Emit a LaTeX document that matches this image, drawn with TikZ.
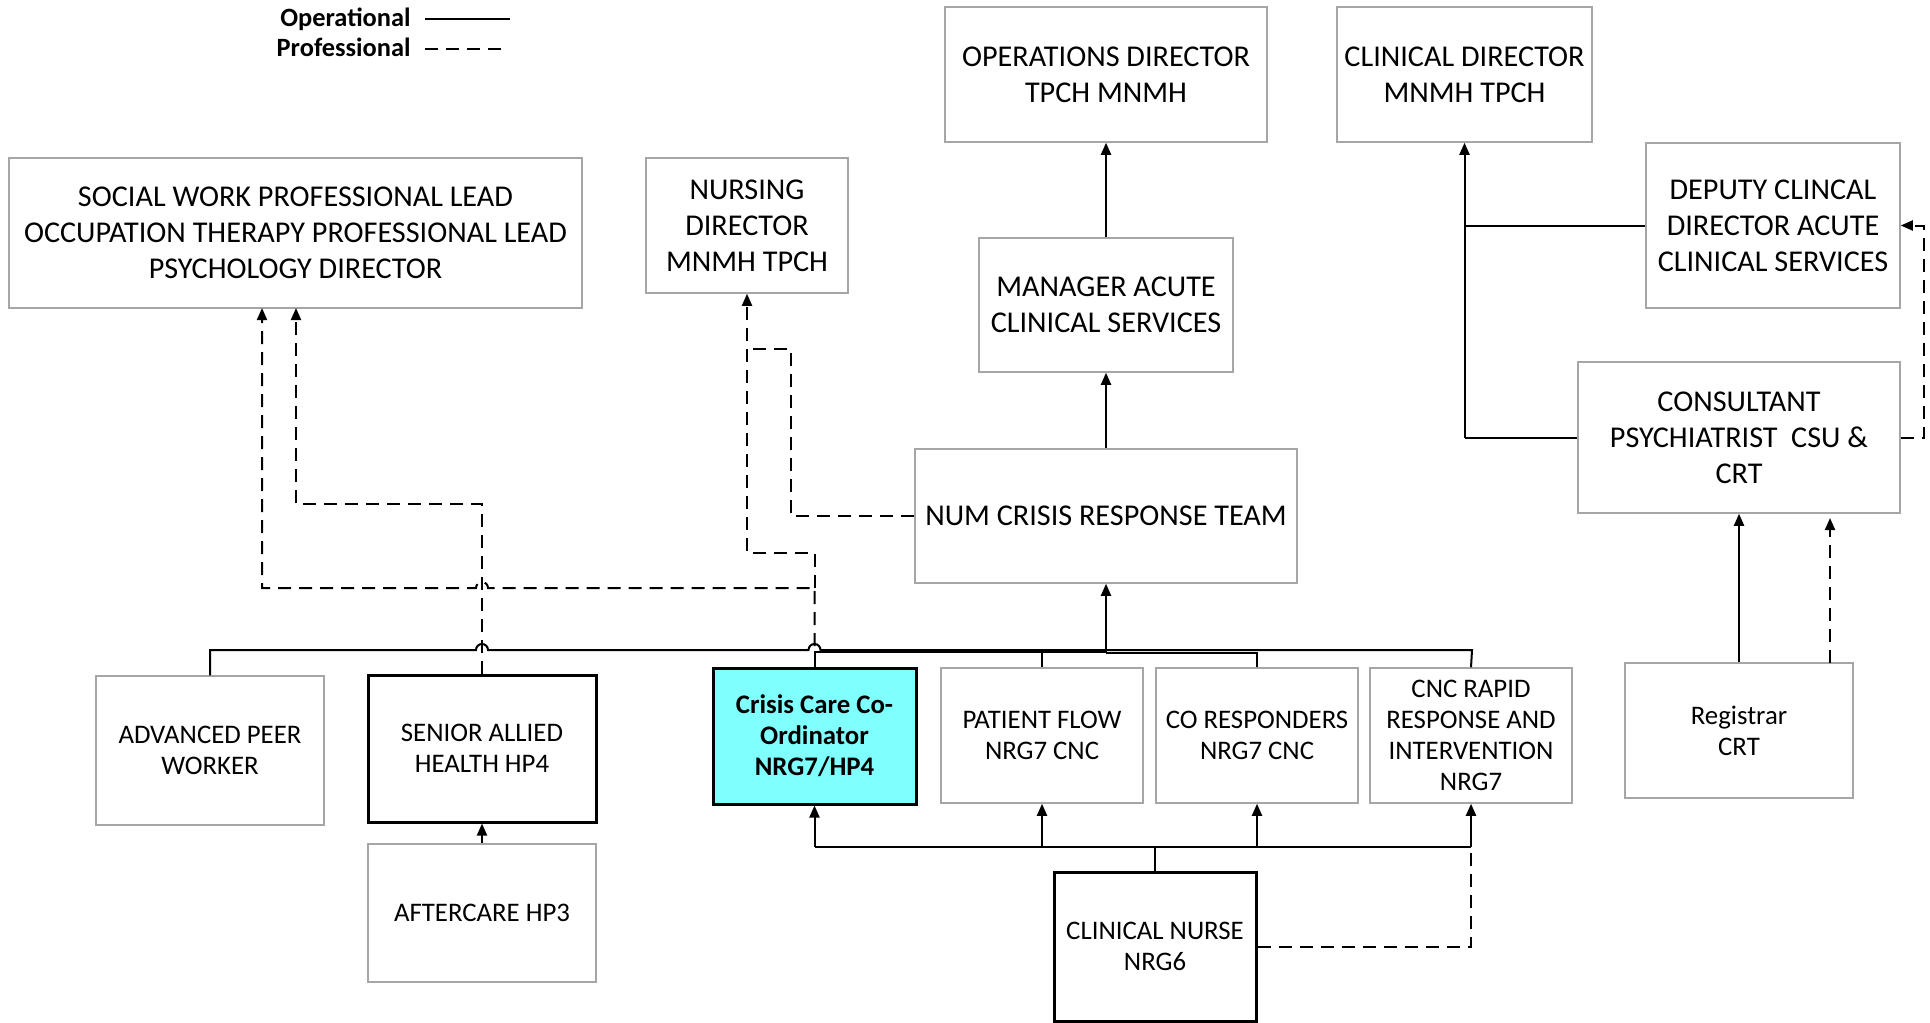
\documentclass[tikz,border=0pt]{standalone}
\usepackage{fontspec}
\setmainfont{Carlito}
\usetikzlibrary{arrows.meta}
\definecolor{boxgray}{HTML}{A6A6A6}
\definecolor{ccyan}{HTML}{80FFFF}
\begin{document}
\begin{tikzpicture}[x=0.5pt,y=-0.5pt,
  box/.style={draw=boxgray, line width=0.75pt, fill=white, inner sep=0pt, align=center},
  thickbox/.style={draw=black, line width=1.5pt, fill=white, inner sep=0pt, align=center},
  big/.style={font=\fontsize{15.1}{18}\selectfont},
  small/.style={font=\fontsize{13.4}{15.5}\selectfont},
  legendtxt/.style={font=\fontsize{13.2}{15}\selectfont\bfseries, inner sep=0pt},
  op/.style={draw=black, line width=1pt},
  pr/.style={draw=black, line width=1pt, dash pattern=on 6.5pt off 4pt},
  tip/.style={-{Triangle[length=6pt,width=5pt]}}
]
\useasboundingbox (0,0) rectangle (1930,1022);

% legend
\node[legendtxt, anchor=base east] (lop) at (411,27) {Operational};
\node[legendtxt, anchor=base east] (lpr) at (411,57) {Professional};
\coordinate (lopa) at (425,19);
\coordinate (lopb) at (510,19);
\coordinate (lpra) at (425,49);
\coordinate (lprb) at (507,49);
\draw[op] (lopa) -- (lopb);
\draw[pr] (lpra) -- (lprb);

% boxes
\node[box, big, minimum width=286.5pt, minimum height=75pt] (sw) at (295.5,233)
  {SOCIAL WORK PROFESSIONAL LEAD\\OCCUPATION THERAPY PROFESSIONAL LEAD\\PSYCHOLOGY DIRECTOR};
\node[box, big, minimum width=101pt, minimum height=67.5pt] (nd) at (747,225.5)
  {NURSING\\DIRECTOR\\MNMH TPCH};
\node[box, big, minimum width=161pt, minimum height=67.5pt] (od) at (1106,74.5)
  {OPERATIONS DIRECTOR\\TPCH MNMH};
\node[box, big, minimum width=127.5pt, minimum height=67.5pt] (cd) at (1464.5,74.5)
  {CLINICAL DIRECTOR\\MNMH TPCH};
\node[box, big, minimum width=127pt, minimum height=67pt] (mgr) at (1106,305)
  {MANAGER ACUTE\\CLINICAL SERVICES};
\node[box, big, minimum width=127pt, minimum height=82.5pt] (dep) at (1773,225.5)
  {DEPUTY CLINCAL\\DIRECTOR ACUTE\\CLINICAL SERVICES};
\node[box, big, minimum width=161pt, minimum height=75.5pt] (con) at (1739,437.5)
  {CONSULTANT\\PSYCHIATRIST\ \ CSU \&\\CRT};
\node[box, big, minimum width=191pt, minimum height=67pt] (num) at (1106,516)
  {NUM CRISIS RESPONSE TEAM};
\node[box, small, minimum width=114pt, minimum height=67.5pt] (reg) at (1739,730.5)
  {Registrar\\CRT};
\node[box, small, minimum width=114pt, minimum height=74.5pt] (adv) at (210,750.5)
  {ADVANCED PEER\\WORKER};
\node[thickbox, small, minimum width=114pt, minimum height=73.5pt] (sah) at (482,748.5)
  {SENIOR ALLIED\\HEALTH HP4};
\node[box, small, minimum width=114pt, minimum height=69pt] (aft) at (482,913)
  {AFTERCARE HP3};
\node[thickbox, fill=ccyan, font=\fontsize{13.4}{15.5}\selectfont\bfseries, minimum width=101.5pt, minimum height=68pt] (ccc) at (814.5,736)
  {Crisis Care Co-\\Ordinator\\NRG7/HP4};
\node[box, small, minimum width=101pt, minimum height=67.5pt] (pf) at (1042,735.5)
  {PATIENT FLOW\\NRG7 CNC};
\node[box, small, minimum width=101pt, minimum height=67.5pt] (cor) at (1257,735.5)
  {CO RESPONDERS\\NRG7 CNC};
\node[box, small, minimum width=101pt, minimum height=67.5pt] (cnc) at (1471,735.5)
  {CNC RAPID\\RESPONSE AND\\INTERVENTION\\NRG7};
\node[thickbox, small, minimum width=101pt, minimum height=74.5pt] (cn) at (1155,946.5)
  {CLINICAL NURSE\\NRG6};

% coordinates
\coordinate (busL) at (210,650);
\coordinate (busR) at (1472,650);
\coordinate (numj) at (1106,653);
\coordinate (cnbus) at (1155,847);
\coordinate (regd) at (1830,663);
\coordinate (cond) at (1830,518);

% top chain
\draw[op,tip] (mgr.north) -- (od.south);
\draw[op,tip] (num.north) -- (mgr.south);

% upper bus with hops
\draw[op] (adv.north) -- (busL) -- (476,650) arc[start angle=180,end angle=0,radius=3pt]
  -- (808.5,650) arc[start angle=180,end angle=0,radius=3pt] -- (busR) -- (cnc.north);
\draw[op] (ccc.north) -- (814.5,652) -- (1106,652);
\draw[op] (pf.north) -- (pf.north |- busL);
\draw[op] (cor.north) -- (cor.north |- numj) -- (numj);
\draw[op,tip] (numj) -- (num.south);

% lower bus
\draw[op] (cn.north) -- (cnbus);
\draw[op] (ccc.south |- cnbus) -- (cnc.south |- cnbus);
\draw[op,tip] (ccc.south |- cnbus) -- (ccc.south);
\draw[op,tip] (pf.south |- cnbus) -- (pf.south);
\draw[op,tip] (cor.south |- cnbus) -- (cor.south);
\draw[op,tip] (cnc.south |- cnbus) -- (cnc.south);
\draw[pr] (cn.east) -- (cnc.south |- cn.east) -- (cnc.south |- cnbus);

% aftercare
\draw[op,tip] (aft.north) -- (sah.south);

% professional lines to SW lead
\draw[pr,tip] (sah.north) -- (482,504) -- (296,504) -- (296,308);
\draw[pr,tip] (814.5,646) -- (814.5,588) -- (488,588) arc[start angle=0,end angle=180,radius=3pt]
  -- (262,588) -- (262,308);
% to nursing director
\draw[pr,tip] (814.5,588) -- (814.5,553) -- (747,553) -- (nd.south);
\draw[pr] (num.west) -- (791,516) -- (791,349) -- (747,349);

% clinical director side
\draw[op] (con.west) -- (cd.south |- con.west);
\draw[op,tip] (cd.south |- con.west) -- (cd.south);
\draw[op] (dep.west) -- (cd.south |- dep.west);
\draw[pr,tip] (con.east) -- (1924,437.5) -- (1924,225.5) -- (dep.east);

% registrar
\draw[op,tip] (reg.north) -- (con.south);
\draw[pr,tip] (regd) -- (cond);
\end{tikzpicture}
\end{document}
